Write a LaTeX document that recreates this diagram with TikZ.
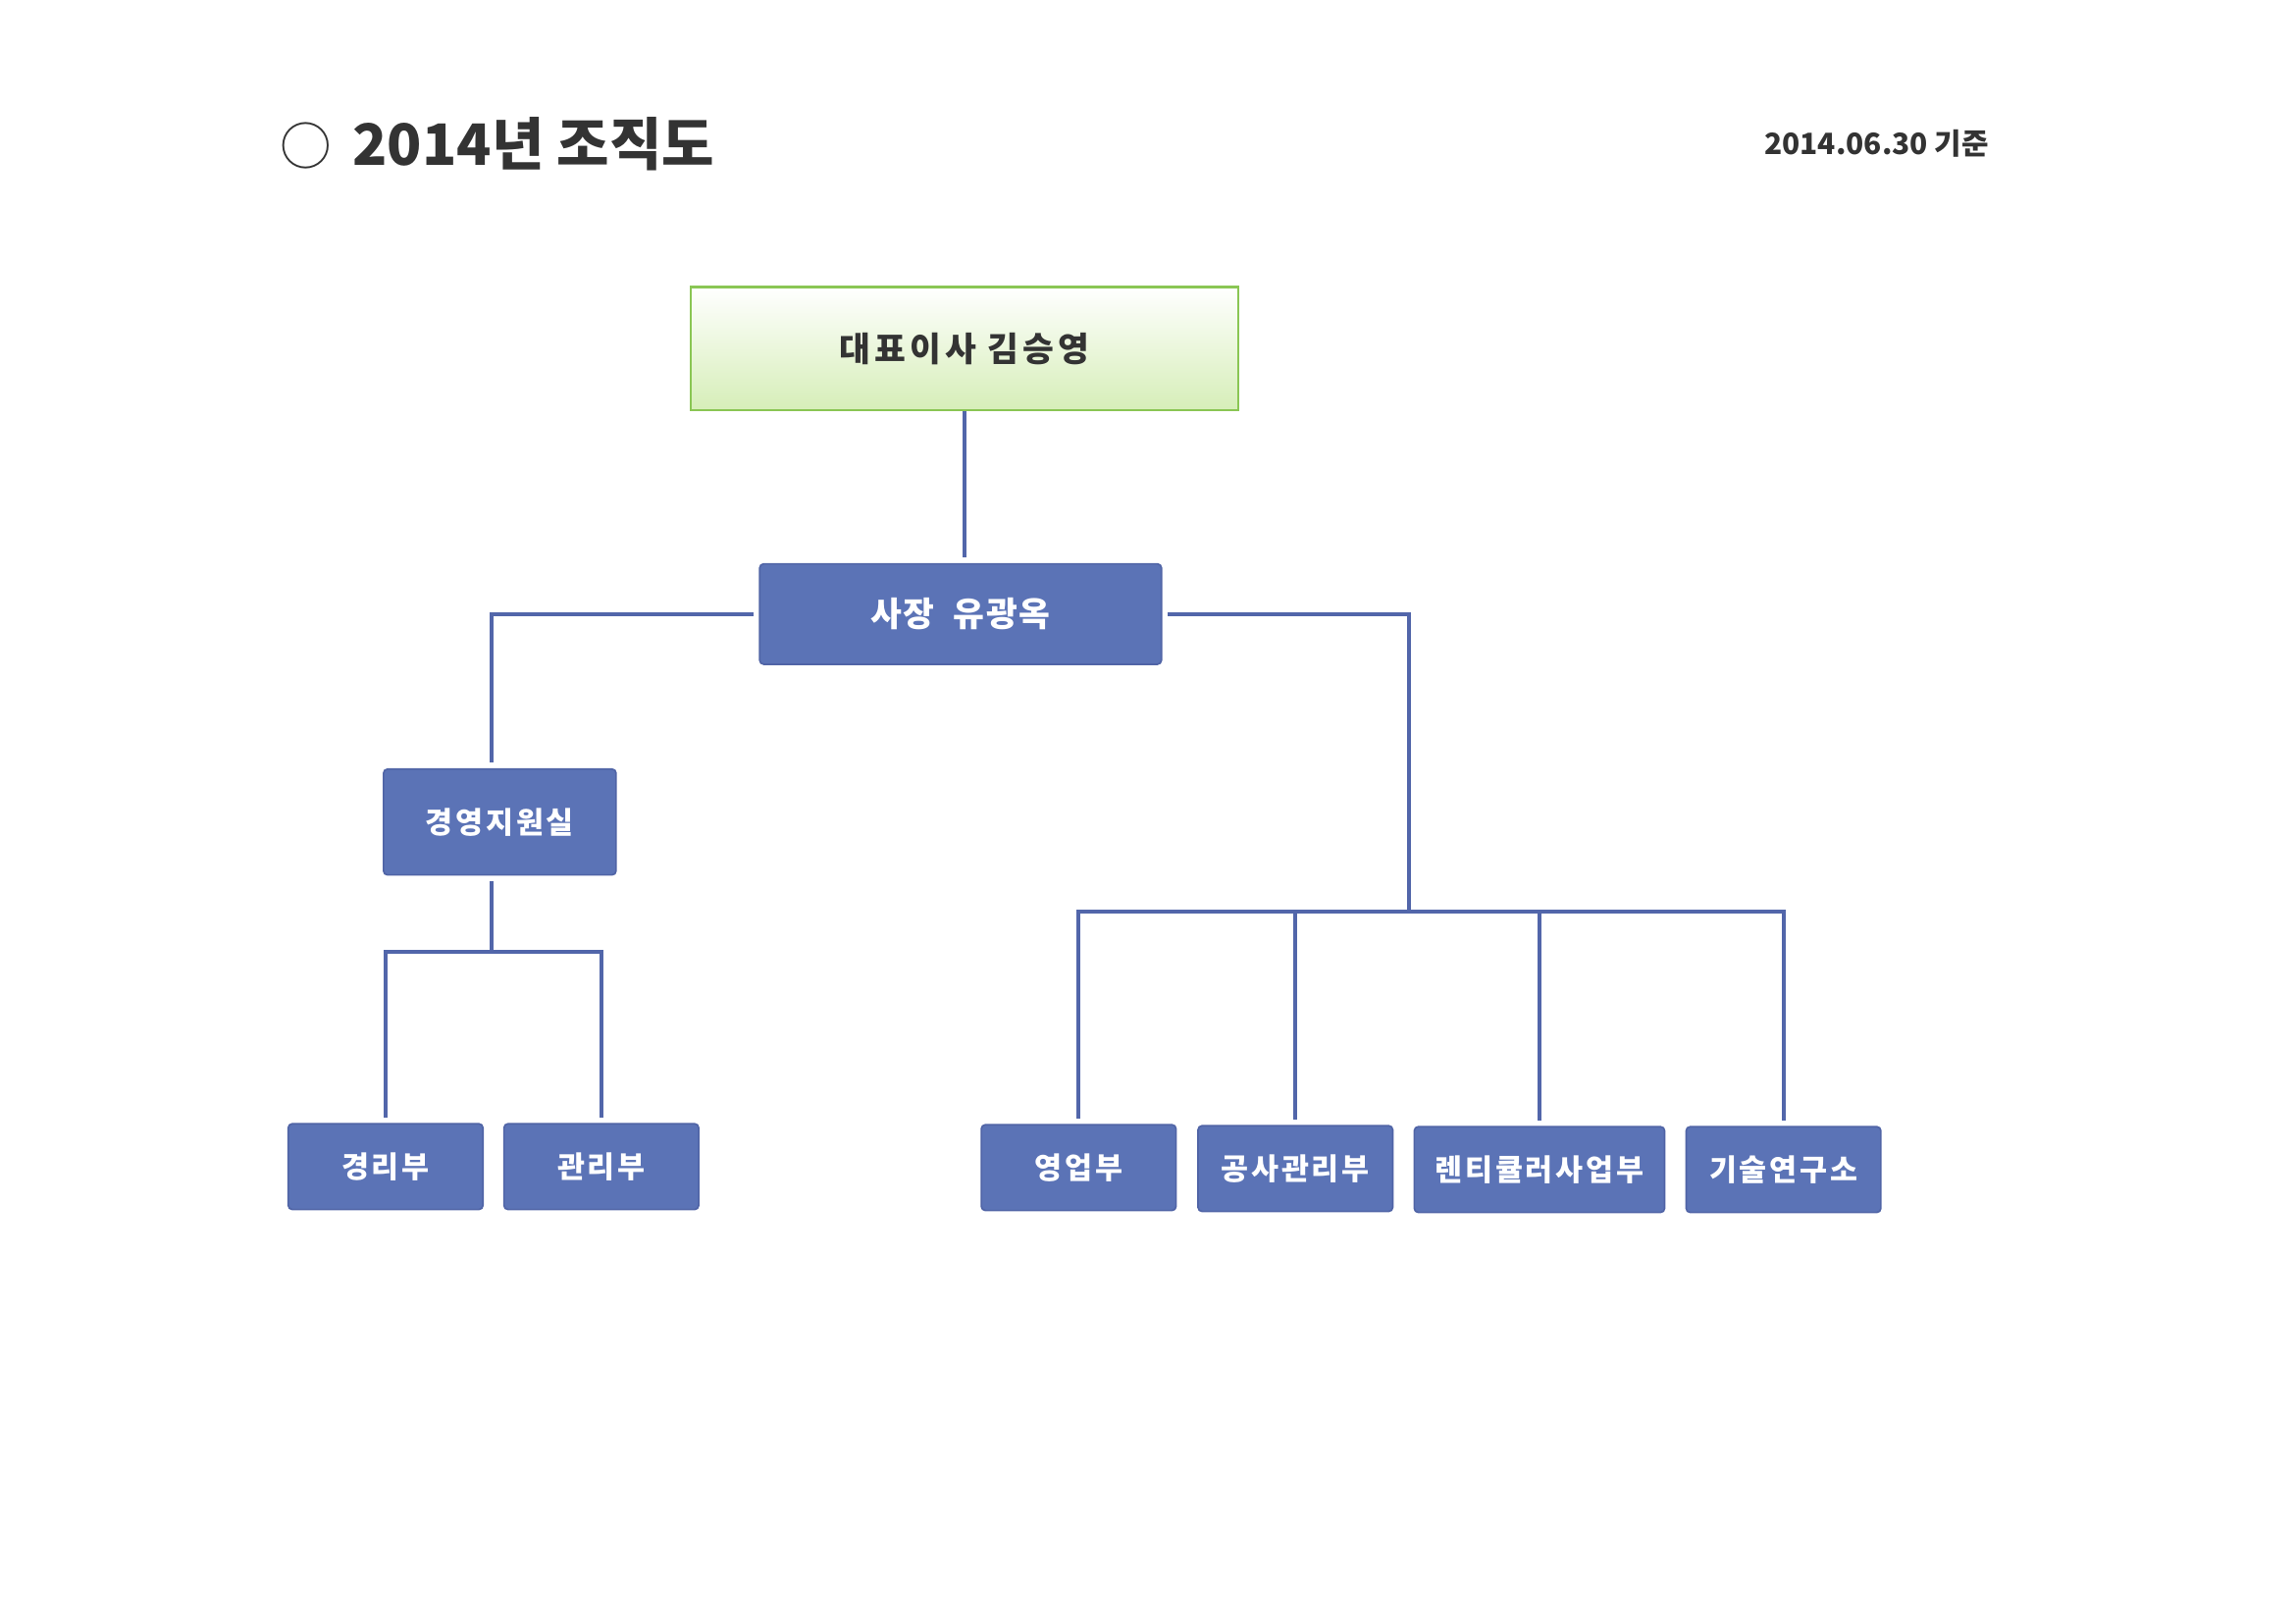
\documentclass[tikz,border=0pt]{standalone}
\usepackage{fontspec}
\setmainfont{Noto Sans CJK KR}

\definecolor{boxblue}{RGB}{91,115,182}
\definecolor{edgeblue}{RGB}{80,100,166}
\definecolor{lineblue}{RGB}{82,102,170}
\definecolor{ceogreen}{RGB}{138,198,84}
\definecolor{ceofill}{RGB}{214,238,184}
\definecolor{textgray}{RGB}{51,51,51}

\tikzset{
	dept/.style={rectangle, rounded corners=1.5pt, fill=boxblue, draw=edgeblue, line width=0.6pt,
		text=white, font=\fontsize{11}{13}\selectfont\bfseries\addfontfeatures{LetterSpace=9},
		minimum width=2.52cm, minimum height=1.11cm, inner sep=0pt},
	link/.style={draw=lineblue, line width=1.4pt, shorten <=2pt, shorten >=2pt},
}

\begin{document}
\begin{tikzpicture}[x=0.012627cm, y=-0.012627cm]
		\useasboundingbox (0,0) rectangle (2352,1662);
		% Heading
		\node[anchor=west, text=textgray, font=\fontsize{21}{24}\selectfont\bfseries] (title) at (277,147)
			{{\mdseries\fontsize{19}{20}\selectfont ○}\hspace{3pt} 2014년 조직도};
		\node[anchor=east, text=textgray, font=\fontsize{10.8}{13}\selectfont\bfseries] (date) at (2047,147) {2014.06.30 기준};
		% Top of the chart
		\node[rectangle, draw=ceogreen, line width=0.8pt, top color=white, bottom color=ceofill, text=textgray,
			font=\fontsize{12.5}{15}\selectfont\bfseries\addfontfeatures{LetterSpace=12},
			minimum width=7.08cm, minimum height=1.59cm] (ceo) at (988,357) {대표이사 김승영};
		\node[dept, font=\fontsize{12.5}{15}\selectfont\bfseries\addfontfeatures{LetterSpace=5},
			minimum width=5.2cm, minimum height=1.3cm] (pres) at (984,629) {사장\ \ 유광옥};
		\node[dept, minimum width=3.01cm, minimum height=1.37cm] (mgmt) at (512,842) {경영지원실};
		% Departments
		\node[dept] (acct) at (395,1195) {경리부};
		\node[dept] (admin) at (616,1195) {관리부};
		\node[dept] (sales) at (1105,1196) {영업부};
		\node[dept] (cons) at (1327,1197) {공사관리부};
		\node[dept, minimum width=3.24cm] (lent) at (1577,1198) {렌티큘러사업부};
		\node[dept] (tech) at (1827,1198) {기술연구소};
		% Lines
		\coordinate (busL) at (504,975);
		\coordinate (busR) at (1443,934);
		\draw[link, shorten <=0pt] (ceo.south) -- (ceo.south |- pres.north);
		\draw[link] (pres.west) -| (mgmt.north -| busL);
		\draw[link, shorten >=0pt] (mgmt.south -| busL) -- (busL);
		\draw[link] (acct.north) -- (acct.north |- busL) -- (admin.north |- busL) -- (admin.north);
		\draw[link, shorten >=0pt] (pres.east) -| (busR);
		\draw[link] (sales.north) -- (sales.north |- busR) -- (tech.north |- busR) -- (tech.north);
		\foreach \d in {cons,lent}
			\draw[link, shorten <=0pt] (\d.north |- busR) -- (\d.north);
\end{tikzpicture}
\end{document}
